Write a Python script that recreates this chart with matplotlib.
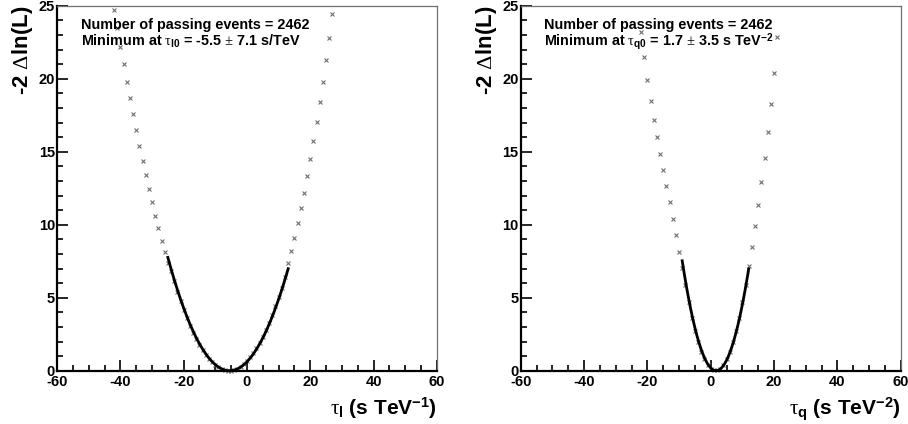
import matplotlib
matplotlib.use("Agg")
import matplotlib.pyplot as plt
from matplotlib.ticker import MultipleLocator
import numpy as np

plt.rcParams['font.family'] = ['Liberation Sans', 'DejaVu Sans']
plt.rcParams['axes.unicode_minus'] = False
plt.rcParams['mathtext.fontset'] = 'custom'
plt.rcParams['mathtext.rm'] = 'Liberation Serif'
plt.rcParams['mathtext.it'] = 'Liberation Serif'
plt.rcParams['mathtext.bf'] = 'Liberation Sans:bold'
plt.rcParams['mathtext.default'] = 'rm'

# ---- likelihood scan: linear LIV term tau_l ----
tau_l = list(range(-42, 28))
nll_l = [24.68, 23.45, 22.20, 20.99, 19.80, 18.66, 17.56, 16.49, 15.41, 14.38,
         13.40, 12.45, 11.53, 10.62, 9.75, 8.90, 8.10, 7.35,
         6.83, 6.11, 5.42, 4.78, 4.17, 3.61, 3.09, 2.61, 2.17, 1.77,
         1.41, 1.09, 0.81, 0.57, 0.38, 0.22, 0.11, 0.03, 0.00, 0.01,
         0.06, 0.15, 0.28, 0.45, 0.66, 0.92, 1.21, 1.54, 1.92, 2.34,
         2.79, 3.29, 3.83, 4.41, 5.03, 5.69, 6.39,
         7.35, 8.22, 9.11, 10.09, 11.12, 12.19, 13.34, 14.50, 15.75,
         17.03, 18.38, 19.80, 21.28, 22.81, 24.41]
fit_l = dict(x0=-5.5, width=7.0, lo=-25.0, hi=13.0)

# ---- likelihood scan: quadratic LIV term tau_q ----
tau_q = list(range(-22, 22))
nll_q = [23.20, 21.50, 19.90, 18.50, 17.20, 16.00, 14.86, 13.77, 12.67, 11.53,
         10.41, 9.29, 8.13, 7.01,
         5.85, 4.68, 3.64, 2.74, 1.96, 1.31, 0.79, 0.40, 0.15, 0.02,
         0.02, 0.15, 0.40, 0.79, 1.31, 1.96, 2.74, 3.64, 4.68, 5.85,
         7.17, 8.49, 9.91, 11.37, 12.95, 14.59, 16.37, 18.29, 20.41, 22.88]
fit_q = dict(x0=1.7, width=3.9, lo=-9.0, hi=12.0)

n_events = 2462
x_ticks = [-60, -40, -20, 0, 20, 40, 60]
y_ticks = [0, 5, 10, 15, 20, 25]

panels = [
    dict(x=tau_l, y=nll_l, fit=fit_l,
         xlabel=r"$\tau_{\mathbf{l}}$ (s TeV$^{\mathbf{-1}}$)",
         info=r"Minimum at $\tau_{\mathbf{l0}}$ = -5.5 $\pm$ 7.1 s/TeV"),
    dict(x=tau_q, y=nll_q, fit=fit_q,
         xlabel=r"$\tau_{\mathbf{q}}$ (s TeV$^{\mathbf{-2}}$)",
         info=r"Minimum at $\tau_{\mathbf{q0}}$ = 1.7 $\pm$ 3.5 s TeV$^{\mathbf{-2}}$"),
]

fig = plt.figure(figsize=(9.08, 4.24), dpi=100)
lefts = [57 / 908, 520.7 / 908]
for left, p in zip(lefts, panels):
    ax = fig.add_axes([left, 53.3 / 424, 380 / 908, 365 / 424])
    ax.set_xlim(-60, 60)
    ax.set_ylim(0, 25)

    ax.plot(p["x"], p["y"], linestyle="none", marker="x", markersize=3.2,
            markeredgewidth=0.8, color="#6e6e6e", clip_on=False, zorder=2)

    f = p["fit"]
    xs = np.linspace(f["lo"], f["hi"], 300)
    ax.plot(xs, ((xs - f["x0"]) / f["width"]) ** 2, color="black", lw=2.0, zorder=3)

    ax.set_xticks(x_ticks)
    ax.set_yticks(y_ticks)
    ax.xaxis.set_minor_locator(MultipleLocator(5))
    ax.yaxis.set_minor_locator(MultipleLocator(1))
    ax.tick_params(which="both", direction="in", top=False, right=False,
                   width=1.2, color="black")
    ax.tick_params(which="major", length=8)
    ax.tick_params(which="minor", length=4.3)
    ax.tick_params(axis="x", pad=3.0, labelsize=10.5)
    ax.tick_params(axis="y", pad=1.5, labelsize=10.5)
    for lab in ax.get_xticklabels() + ax.get_yticklabels():
        lab.set_fontweight("bold")

    for side in ("left", "bottom"):
        ax.spines[side].set_linewidth(1.6)
        ax.spines[side].set_color("black")
    for side in ("top", "right"):
        ax.spines[side].set_linewidth(0.9)
        ax.spines[side].set_color("#707070")

    ax.set_xlabel(p["xlabel"], fontsize=15, fontweight="bold", loc="right")
    ax.xaxis.set_label_coords(1.0, -0.068)
    ax.set_ylabel(r"-2 $\Delta$ln(L)", fontsize=16, fontweight="bold", loc="top")
    ax.yaxis.set_label_coords(-0.058, 1.0)

    ax.text(23.7 / 380, 1 - 23.3 / 365, f"Number of passing events = {n_events}",
            transform=ax.transAxes, fontsize=10.4, fontweight="bold",
            ha="left", va="baseline")
    ax.text(23.7 / 380, 1 - 40.5 / 365, p["info"],
            transform=ax.transAxes, fontsize=10.4, fontweight="bold",
            ha="left", va="baseline")

fig.savefig("out.png", dpi=100)
